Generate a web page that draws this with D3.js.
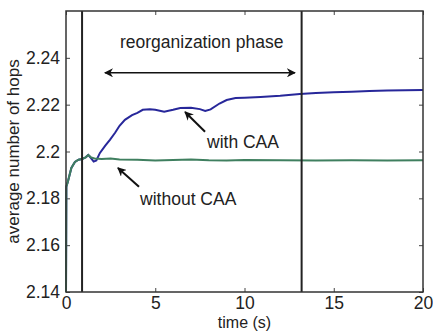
<!DOCTYPE html>
<html>
<head>
<meta charset="utf-8">
<script src="https://cdn.jsdelivr.net/npm/d3@7"></script>
<style>
  body { margin: 0; background: #fff; }
  text { font-family: "Liberation Sans", Arial, sans-serif; fill: #222; }
</style>
</head>
<body>
<div id="chart"></div>
<script>
// time axis samples (s)
var withTime = [0, 0.02, 0.1, 0.3, 0.5, 0.7, 0.9, 1.1, 1.25, 1.4, 1.55, 1.7, 1.9, 2.2, 2.46, 2.75, 3.0, 3.3, 3.7, 4.0, 4.3, 4.7, 5.0, 5.5, 6.0, 6.4, 7.0, 7.5, 7.8, 8.1, 8.6, 9.0, 9.5, 10.0, 10.9, 12.0, 13.1, 14.0, 15, 16, 17, 18, 19, 20];
var withVals = [2.14, 2.185, 2.187, 2.193, 2.1955, 2.1965, 2.1968, 2.1975, 2.1985, 2.1972, 2.1957, 2.1962, 2.1994, 2.2025, 2.205, 2.208, 2.211, 2.2135, 2.2155, 2.2165, 2.2178, 2.218, 2.2178, 2.217, 2.2178, 2.2186, 2.2187, 2.2181, 2.2173, 2.218, 2.2205, 2.222, 2.2228, 2.223, 2.2233, 2.2238, 2.2246, 2.225, 2.2253, 2.2255, 2.2258, 2.226, 2.2262, 2.2263];

var withoutTime = [0, 0.02, 0.1, 0.3, 0.5, 0.7, 0.9, 1.1, 1.25, 1.4, 1.6, 2.0, 2.5, 3.0, 4.0, 5.0, 6.0, 7.0, 8.0, 9.0, 10.0, 12.0, 14.0, 16.0, 18.0, 20.0];
var withoutVals = [2.14, 2.185, 2.187, 2.193, 2.1955, 2.1965, 2.1968, 2.1975, 2.1985, 2.1975, 2.197, 2.1968, 2.197, 2.1966, 2.1965, 2.1962, 2.1964, 2.1966, 2.1963, 2.1962, 2.1964, 2.1963, 2.1962, 2.1963, 2.1962, 2.1963];

var xTicks = [0, 5, 10, 15, 20];
var yTicks = [2.14, 2.16, 2.18, 2.2, 2.22, 2.24];
var phaseBounds = [0.9, 13.2];

var margin = {top: 11, right: 10, bottom: 39, left: 66};
var containerWidth = 433;
var containerHeight = 331;
var width = containerWidth - margin.left - margin.right;
var height = containerHeight - margin.top - margin.bottom;

var svg = d3.select('#chart').append('svg')
    .attr('width', containerWidth)
    .attr('height', containerHeight)
  .append('g')
    .attr('transform', `translate(${margin.left},${margin.top})`);

var xScale = d3.scaleLinear().domain([0, 20]).range([0, width]);
var yScale = d3.scaleLinear().domain([2.14, 2.26]).range([height, 0]);

var defs = svg.append('defs');
defs.append('marker')
    .attr('id', 'head')
    .attr('viewBox', '0 0 10 10')
    .attr('refX', 9).attr('refY', 5)
    .attr('markerWidth', 9).attr('markerHeight', 9)
    .attr('markerUnits', 'userSpaceOnUse')
    .attr('orient', 'auto-start-reverse')
  .append('path')
    .attr('d', 'M0,0 L10,5 L0,10 L3,5 Z')
    .attr('fill', '#111');

// ticks pointing inward, MATLAB style
var xAxis = d3.axisBottom(xScale).tickValues(xTicks).tickSizeInner(-4).tickSizeOuter(0).tickPadding(5);
var yAxis = d3.axisLeft(yScale).tickValues(yTicks).tickSizeInner(-4).tickSizeOuter(0).tickPadding(6)
    .tickFormat(d => d3.format('')(+d.toFixed(2)));

var gx = svg.append('g').attr('transform', `translate(0,${height})`).call(xAxis);
var gy = svg.append('g').call(yAxis);
svg.append('g').attr('transform', `translate(0,0)`)
    .call(d3.axisTop(xScale).tickValues(xTicks).tickSizeInner(-4).tickSizeOuter(0).tickFormat(''));
svg.append('g').attr('transform', `translate(${width},0)`)
    .call(d3.axisRight(yScale).tickValues(yTicks).tickSizeInner(-4).tickSizeOuter(0).tickFormat(''));

svg.selectAll('.domain').remove();
svg.selectAll('.tick line').attr('stroke', '#444');
svg.selectAll('.tick text').attr('font-size', 17.5).attr('fill', '#222')
    .style('font-family', '"Liberation Sans", Arial, sans-serif');

var line = d3.line().x(d => xScale(d[0])).y(d => yScale(d[1]));

svg.append('path')
    .datum(d3.zip(withTime, withVals))
    .attr('d', line)
    .attr('fill', 'none')
    .attr('stroke', '#27279a')
    .attr('stroke-width', 2);

svg.append('path')
    .datum(d3.zip(withoutTime, withoutVals))
    .attr('d', line)
    .attr('fill', 'none')
    .attr('stroke', '#3f7f5f')
    .attr('stroke-width', 2);

svg.selectAll('.phase')
    .data(phaseBounds)
    .enter()
    .append('line')
    .attr('class', 'phase')
    .attr('x1', d => xScale(d)).attr('x2', d => xScale(d))
    .attr('y1', 0).attr('y2', height)
    .attr('stroke', '#222')
    .attr('stroke-width', 2);

// frame
svg.append('rect')
    .attr('width', width).attr('height', height)
    .attr('fill', 'none').attr('stroke', '#333').attr('stroke-width', 1.5);

// annotations
svg.append('line')
    .attr('x1', xScale(2.18)).attr('y1', yScale(2.2336))
    .attr('x2', xScale(12.83)).attr('y2', yScale(2.2336))
    .attr('stroke', '#111').attr('stroke-width', 1.5)
    .attr('marker-start', 'url(#head)').attr('marker-end', 'url(#head)');

svg.append('text')
    .attr('x', xScale(7.6)).attr('y', yScale(2.2443))
    .attr('text-anchor', 'middle').attr('font-size', 17.5)
    .text('reorganization phase');

svg.append('line')
    .attr('x1', xScale(7.79)).attr('y1', yScale(2.2084))
    .attr('x2', xScale(6.67)).attr('y2', yScale(2.2169))
    .attr('stroke', '#111').attr('stroke-width', 2)
    .attr('marker-end', 'url(#head)');

svg.append('text')
    .attr('x', xScale(7.9)).attr('y', yScale(2.2015))
    .attr('font-size', 17.5)
    .text('with CAA');

svg.append('line')
    .attr('x1', xScale(4.09)).attr('y1', yScale(2.1849))
    .attr('x2', xScale(2.91)).attr('y2', yScale(2.193))
    .attr('stroke', '#111').attr('stroke-width', 2)
    .attr('marker-end', 'url(#head)');

svg.append('text')
    .attr('x', xScale(4.15)).attr('y', yScale(2.1772))
    .attr('font-size', 17.5)
    .text('without CAA');

// axis titles
svg.append('text')
    .attr('x', width / 2).attr('y', height + 36)
    .attr('text-anchor', 'middle').attr('font-size', 16)
    .text('time (s)');

svg.append('text')
    .attr('transform', `translate(${-47},${height / 2}) rotate(-90)`)
    .attr('text-anchor', 'middle').attr('font-size', 17)
    .text('average number of hops');
</script>
</body>
</html>
